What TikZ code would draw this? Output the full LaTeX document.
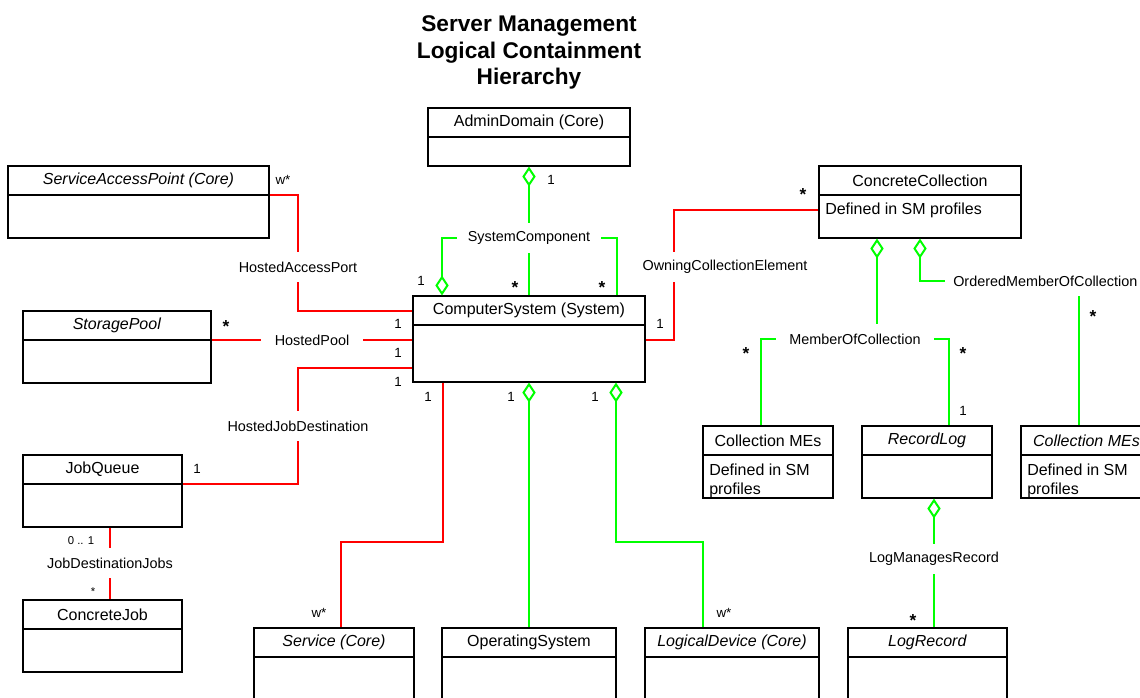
\documentclass[tikz,border=0pt]{standalone}
\usepackage{fontspec}
\setmainfont{Liberation Sans}
\usetikzlibrary{fit,arrows.meta,calc}
\newcommand\umlbox[7]{%
  \node[box, fit={(#2,#3) (#4,#5)}] (#1) {};
  \draw[divl] (#1.west |- 0,#6) -- (#1.east |- 0,#6);
  \node[btitle] (#1-t) at ({(#2+#4)/2},{(#3+#6)/2}) {#7};
}
\begin{document}
\begin{tikzpicture}[x=0.75pt,y=-0.75pt,
  box/.style={draw=black, line width=0.8pt, inner sep=0pt},
  divl/.style={draw=black, line width=0.8pt},
  btitle/.style={font=\fontsize{12}{14}\selectfont, inner sep=0pt},
  body/.style={font=\fontsize{12}{14.25}\selectfont, align=left, inner sep=0pt},
  assoc/.style={font=\fontsize{10.8}{13}\selectfont, inner xsep=8pt, inner ysep=0pt, minimum height=22.5pt},
  mult/.style={font=\fontsize{10}{12}\selectfont, inner sep=0pt, text height=7.2pt, text depth=0pt},
  starm/.style={font=\bfseries\fontsize{13}{14}\selectfont, inner sep=0pt, text height=15pt, text depth=0pt},
  smult/.style={font=\fontsize{8.5}{10}\selectfont, inner sep=0pt, text height=6pt, text depth=0pt},
  rline/.style={draw=red, line width=1.5pt},
  gline/.style={draw=green, line width=1.5pt},
  agg/.style={arrows={Diamond[open,length=15pt,width=10pt]-}},
]
\useasboundingbox (0,0) rectangle (1140,698);
\clip (0,0) rectangle (1140,698);

% title
\node[align=center, font=\bfseries\fontsize{17}{19.9}\selectfont, inner sep=0pt] (title) at (529,52.5)
  {Server Management\\Logical Containment\\Hierarchy};

% classes
\umlbox{admin}{428}{108}{630}{166}{137}{AdminDomain (Core)}
\umlbox{sap}{8}{166}{269}{238}{195}{\textit{ServiceAccessPoint (Core)}}
\umlbox{cc}{819}{166}{1021}{238}{195}{ConcreteCollection}
\umlbox{sp}{23}{311}{211}{383}{340}{\textit{StoragePool}}
\umlbox{cs}{413}{296}{645}{382}{325}{ComputerSystem (System)}
\umlbox{jq}{23}{455}{182}{527}{484}{JobQueue}
\umlbox{cj}{23}{600}{182}{672}{629}{ConcreteJob}
\umlbox{svc}{254}{628}{414}{740}{657}{\textit{Service (Core)}}
\umlbox{os}{442}{628}{616}{740}{657}{OperatingSystem}
\umlbox{ld}{645}{628}{819}{740}{657}{\textit{LogicalDevice (Core)}}
\umlbox{lr}{848}{628}{1007}{740}{657}{\textit{LogRecord}}
\umlbox{cmes}{703}{426}{833}{498}{455}{Collection MEs}
\umlbox{rl}{862}{426}{992}{498}{455}{\textit{RecordLog}}
\umlbox{rmes}{1021}{426}{1152}{498}{455}{\textit{Collection MEs}}

\node[body, anchor=west] (cc-b) at (825,210) {Defined in SM profiles};
\node[body, anchor=base west] (cmes-b) at (709,495) {Defined in SM\\profiles};
\node[body, anchor=base west] (rmes-b) at (1027,495) {Defined in SM\\profiles};

% association labels
\node[assoc, inner xsep=8.25pt] (sc) at (529,238) {SystemComponent};
\node[assoc] (hap) at (298,267) {HostedAccessPort};
\node[assoc, inner xsep=10.5pt] (hp) at (312,340) {HostedPool};
\node[assoc] (hjd) at (298,426) {HostedJobDestination};
\node[assoc] (jdj) at (110,563) {JobDestinationJobs};
\node[assoc] (oce) at (725,267) {OwningCollectionElement};
\node[assoc, inner xsep=10pt] (moc) at (855,339) {MemberOfCollection};
\node[assoc, inner xsep=6pt, anchor=west] (omc) at (945,281) {OrderedMemberOfCollection};
\node[assoc] (lmr) at (934,559) {LogManagesRecord};

% SystemComponent
\draw[gline, agg] (admin.south) -- (sc);
\draw[gline] (sc) -- (cs.north);
\draw[gline, agg] (cs.north -| 442,0) |- (sc);
\draw[gline] (cs.north -| 617,0) |- (sc);

% red associations on the left
\draw[rline] (sap.east |- 0,195) -| (hap);
\draw[rline] (hap) |- (cs.west |- 0,311);
\draw[rline] (sp.east |- 0,340) -- (hp);
\draw[rline] (hp) -- (cs.west |- 0,340);
\draw[rline] (cs.west |- 0,368) -| (hjd);
\draw[rline] (hjd) |- (jq.east |- 0,484);
\draw[rline] (jq.south -| 110,0) -- (jdj);
\draw[rline] (jdj) -- (cj.north -| 110,0);
\draw[rline] (cs.south -| 443,0) -- (443,542) -| (svc.north -| 341,0);

% green below ComputerSystem
\draw[gline, agg] (cs.south) -- (os.north);
\draw[gline, agg] (cs.south -| 616,0) -- (616,542) -| (ld.north -| 703,0);

% OwningCollectionElement
\draw[rline] (cs.east |- 0,340) -| (oce.south -| 674,0);
\draw[rline] (oce.north -| 674,0) |- (cc.west |- 0,210);

% collections
\draw[gline, agg] (cc.south -| 877,0) -- (moc.north -| 877,0);
\draw[gline] (moc.west) -| (cmes.north -| 761,0);
\draw[gline] (moc.east) -| (rl.north -| 949,0);
\draw[gline, agg] (cc.south -| 920,0) |- (omc.west);
\draw[gline] (omc.south -| 1079,0) -- (rmes.north -| 1079,0);
\draw[gline, agg] (rl.south -| 934,0) -- (lmr);
\draw[gline] (lmr) -- (lr.north -| 934,0);

% multiplicities
\node[mult] (m1) at (283,180) {w*};
\node[mult] (m2) at (551,180) {1};
\node[starm] (m3) at (803,191) {*};
\node[mult] (m4) at (421,281) {1};
\node[starm] (m5) at (515,284) {*};
\node[starm] (m6) at (602,284) {*};
\node[starm] (m7) at (226,323) {*};
\node[mult] (m8) at (398,324) {1};
\node[mult] (m9) at (398,353) {1};
\node[mult] (m10) at (398,382) {1};
\node[mult] (m11) at (660,324) {1};
\node[starm] (m12) at (746,350) {*};
\node[starm] (m13) at (963,350) {*};
\node[starm] (m14) at (1093,313) {*};
\node[mult] (m15) at (963,411) {1};
\node[mult] (m16) at (428,397) {1};
\node[mult] (m17) at (511,397) {1};
\node[mult] (m18) at (595,397) {1};
\node[mult] (m19) at (197,469) {1};
\node[smult] (m20) at (81,541) {0 .. 1};
\node[smult] (m21) at (93,592) {*};
\node[mult] (m22) at (319,613) {w*};
\node[mult] (m23) at (724,613) {w*};
\node[starm] (m24) at (913,617) {*};
\end{tikzpicture}
\end{document}
